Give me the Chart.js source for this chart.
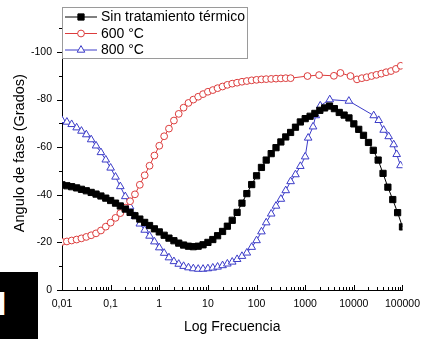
<!DOCTYPE html>
<html>
<head>
<meta charset="utf-8">
<script src="https://cdn.jsdelivr.net/npm/chart.js@4.4.1/dist/chart.umd.min.js"></script>
<style>
  html, body { margin: 0; padding: 0; background: #fff; }
  #wrap { position: relative; width: 428px; height: 339px; overflow: hidden; }
  #c { position: absolute; left: 0; top: 0; }
  #tag { position: absolute; left: 0; top: 272px; width: 38px; height: 67px; background: #000; overflow: hidden; }
  #tag span { position: absolute; left: -3px; top: 14px; color: #fff; font: bold 34px "Liberation Sans", Arial, sans-serif; line-height: 1; }
</style>
</head>
<body>
<div id="wrap">
  <canvas id="c" width="428" height="339"></canvas>
  <div id="tag"><span>I</span></div>
</div>
<script>
// ---- data ----
const seriesNames = ['Sin tratamiento térmico', '600 °C', '800 °C'];

const freqBlack = [0.01,0.0126,0.0158,0.02,0.0251,0.0316,0.0398,0.0501,0.0631,0.0794,
  0.1,0.126,0.158,0.2,0.251,0.316,0.398,0.501,0.631,0.794,
  1,1.26,1.58,2,2.51,3.16,3.98,5.01,6.31,7.94,
  10,12.6,15.8,20,25.1,31.6,39.8,50.1,63.1,79.4,
  100,126,158,200,251,316,398,501,631,794,
  1000,1260,1580,2000,2510,3160,3980,5010,6310,7940,
  10000,12600,15800,20000,25100,31600,39800,50100,63100,79400,
  100000];
const phaseBlack = [-44.2,-43.8,-43.4,-42.9,-42.3,-41.7,-41.0,-40.3,-39.5,-38.6,
  -37.6,-36.5,-35.3,-34.0,-32.6,-31.2,-29.8,-28.4,-27.1,-25.7,
  -24.4,-23.0,-21.8,-20.7,-19.7,-18.9,-18.4,-18.2,-18.4,-19.0,
  -20.0,-21.2,-22.8,-24.6,-26.8,-29.3,-32.6,-36.5,-40.5,-44.3,
  -48.0,-51.5,-54.6,-57.3,-59.8,-62.2,-64.3,-66.2,-68.4,-70.6,
  -72.0,-73.0,-74.2,-75.5,-76.5,-77.3,-76.2,-74.6,-73.5,-72.3,
  -69.8,-67.5,-65.0,-62.0,-58.7,-54.6,-49.0,-43.2,-38.0,-32.5,
  -26.5];

const freqRed = [0.01,0.0126,0.0158,0.02,0.0251,0.0316,0.0398,0.0501,0.0631,0.0794,
  0.1,0.126,0.158,0.2,0.251,0.316,0.398,0.501,0.631,0.794,
  1,1.26,1.58,2,2.51,3.16,3.98,5.01,6.31,7.94,
  10,12.6,15.8,20,25.1,31.6,39.8,50.1,63.1,79.4,
  100,126,158,200,251,316,398,501,
  1115,1930,3890,5300,8530,
  11600,14600,18400,23100,29200,36700,46200,58200,73300,92300];
const phaseRed = [-20.2,-20.4,-20.8,-21.2,-21.7,-22.3,-23.0,-23.8,-25.0,-26.6,
  -28.3,-30.3,-32.3,-34.6,-37.3,-40.2,-44.2,-48.2,-52.2,-56.5,
  -60.6,-64.6,-67.8,-71.2,-74.0,-76.6,-78.6,-80.0,-81.2,-82.3,
  -83.3,-84.0,-84.8,-85.5,-86.2,-86.7,-87.1,-87.5,-87.8,-88.1,
  -88.3,-88.5,-88.6,-88.7,-88.8,-88.9,-89.0,-89.0,
  -89.9,-90.3,-90.0,-91.2,-89.9,
  -88.5,-89.0,-89.4,-89.9,-90.4,-90.9,-91.5,-92.0,-92.9,-94.2];

const freqBlue = [0.01,0.0126,0.0158,0.02,0.0251,0.0316,0.0398,0.0501,0.0631,0.0794,
  0.1,0.126,0.158,0.2,0.251,0.316,0.398,0.501,0.631,0.794,
  1,1.26,1.58,2,2.51,3.16,3.98,5.01,6.31,7.94,
  10,12.6,15.8,20,25.1,31.6,39.8,50.1,63.1,79.4,
  100,126,158,200,251,316,398,501,631,794,
  1000,1150,1450,1650,2040,3200,7900,
  25600,32500,41000,52000,66000,76000,91000];
const phaseBlue = [-71.3,-70.6,-69.6,-68.2,-66.8,-65.3,-63.2,-60.6,-57.8,-54.7,
  -51.3,-47.5,-43.5,-39.3,-35.0,-31.0,-27.8,-25.2,-22.7,-20.3,
  -17.8,-15.5,-13.6,-12.0,-10.9,-10.0,-9.4,-9.0,-8.8,-8.8,
  -9.0,-9.3,-9.7,-10.3,-11.0,-11.8,-12.9,-14.2,-15.6,-18.0,
  -20.8,-24.5,-28.3,-32.0,-35.3,-38.2,-41.8,-45.6,-48.5,-52.0,
  -56.0,-63.9,-68.6,-73.3,-77.4,-80.0,-79.4,
  -73.3,-71.3,-67.2,-64.5,-61.1,-57.0,-52.3];

const xTickValues = [0.01, 0.1, 1, 10, 100, 1000, 10000, 100000];
const xTickLabels = ['0,01', '0,1', '1', '10', '100', '1000', '10000', '100000'];
const yTickValues = [-100, -80, -60, -40, -20, 0];
const yTickLabels = ['-100', '-80', '-60', '-40', '-20', '0'];
const yMinorValues = [-110, -90, -70, -50, -30, -10];

// ---- helpers ----
const FONT = '"Liberation Sans", Arial, sans-serif';
const pts = (xs, ys) => xs.map((x, i) => ({ x: x, y: ys[i] }));
const RED = '#DC3C3C', BLUE = '#3C3CC8', BLACK = '#000000';

const xMinorValues = [];
for (let k = -2; k < 5; k++) for (let m = 2; m <= 9; m++) xMinorValues.push(m * Math.pow(10, k));

const axisTicks = {
  id: 'axisTicks',
  afterDraw(chart) {
    const { ctx, chartArea: { left, bottom }, scales: { x, y } } = chart;
    ctx.save();
    ctx.strokeStyle = '#000';
    ctx.lineWidth = 1;
    ctx.beginPath();
    xTickValues.forEach(v => { const p = Math.round(x.getPixelForValue(v)) + 0.5; ctx.moveTo(p, bottom); ctx.lineTo(p, bottom - 5); });
    xMinorValues.forEach(v => { const p = Math.round(x.getPixelForValue(v)) + 0.5; ctx.moveTo(p, bottom); ctx.lineTo(p, bottom - 3); });
    yTickValues.forEach(v => { const p = Math.round(y.getPixelForValue(v)) + 0.5; ctx.moveTo(left, p); ctx.lineTo(left - 5, p); });
    yMinorValues.forEach(v => { const p = Math.round(y.getPixelForValue(v)) + 0.5; ctx.moveTo(left, p); ctx.lineTo(left - 3, p); });
    ctx.stroke();
    ctx.restore();
  }
};

const boxLegend = {
  id: 'boxLegend',
  afterDraw(chart) {
    const { ctx } = chart;
    const left = chart.chartArea.left;
    ctx.save();
    ctx.fillStyle = '#fff';
    ctx.fillRect(left + 0.5, 7.5, 185, 51);
    ctx.strokeStyle = '#9a9a9a';
    ctx.lineWidth = 1;
    ctx.strokeRect(left + 0.5, 7.5, 185, 51);
    const rows = [17, 33.5, 50];
    chart.data.datasets.forEach((ds, i) => {
      const yy = rows[i];
      ctx.strokeStyle = ds.borderColor;
      ctx.lineWidth = 1;
      ctx.beginPath();
      ctx.moveTo(left + 3, yy);
      ctx.lineTo(left + 35, yy);
      ctx.stroke();
      ctx.fillStyle = ds.pointBackgroundColor;
      ctx.strokeStyle = ds.pointBorderColor;
      Chart.helpers.drawPoint(ctx, { pointStyle: ds.pointStyle, radius: ds.pointRadius, rotation: 0, borderWidth: 1 }, left + 19, yy);
      ctx.fillStyle = '#000';
      ctx.font = '14px ' + FONT;
      ctx.textBaseline = 'middle';
      ctx.textAlign = 'left';
      ctx.fillText(ds.label, left + 39, yy + 0.5);
    });
    ctx.restore();
  }
};

new Chart(document.getElementById('c'), {
  type: 'line',
  data: {
    datasets: [
      { label: seriesNames[0], data: pts(freqBlack, phaseBlack), borderColor: BLACK, borderWidth: 1,
        pointStyle: 'rect', pointRadius: 4.4, pointBackgroundColor: BLACK, pointBorderColor: BLACK, pointBorderWidth: 1 },
      { label: seriesNames[1], data: pts(freqRed, phaseRed), borderColor: RED, borderWidth: 1,
        pointStyle: 'circle', pointRadius: 3.4, pointBackgroundColor: '#fff', pointBorderColor: RED, pointBorderWidth: 1 },
      { label: seriesNames[2], data: pts(freqBlue, phaseBlue), borderColor: BLUE, borderWidth: 1,
        pointStyle: 'triangle', pointRadius: 4.4, pointBackgroundColor: '#fff', pointBorderColor: BLUE, pointBorderWidth: 1 }
    ]
  },
  options: {
    responsive: false,
    animation: false,
    devicePixelRatio: 1,
    layout: { padding: { left: 0, right: 22, top: 7, bottom: 0 } },
    elements: { line: { tension: 0 } },
    plugins: { legend: { display: false }, tooltip: { enabled: false } },
    scales: {
      x: {
        type: 'logarithmic', min: 0.01, max: 100000,
        afterBuildTicks: s => { s.ticks = xTickValues.map(v => ({ value: v })); },
        afterFit: s => { s.height = 49; },
        ticks: { autoSkip: false, maxRotation: 0, padding: 8, color: '#000',
          font: { family: FONT, size: 10.5 },
          callback: (v, i) => xTickLabels[i] },
        grid: { display: false, drawTicks: false },
        border: { display: true, color: '#000', width: 1 },
        title: { display: true, text: 'Log Frecuencia', color: '#000',
          font: { family: FONT, size: 14 }, padding: { top: 0, bottom: 3 } }
      },
      y: {
        type: 'linear', reverse: true, min: -115, max: 0,
        afterBuildTicks: s => { s.ticks = yTickValues.map(v => ({ value: v })); },
        afterFit: s => { s.width = 62; },
        ticks: { autoSkip: false, padding: 10, color: '#000',
          font: { family: FONT, size: 10.5 },
          callback: (v, i) => yTickLabels[i] },
        grid: { display: false, drawTicks: false },
        border: { display: true, color: '#000', width: 1 },
        title: { display: true, text: 'Angulo de fase (Grados)', color: '#000',
          font: { family: FONT, size: 14.5 }, padding: { top: 11, bottom: 0 } }
      }
    }
  },
  plugins: [axisTicks, boxLegend]
});
</script>
</body>
</html>
